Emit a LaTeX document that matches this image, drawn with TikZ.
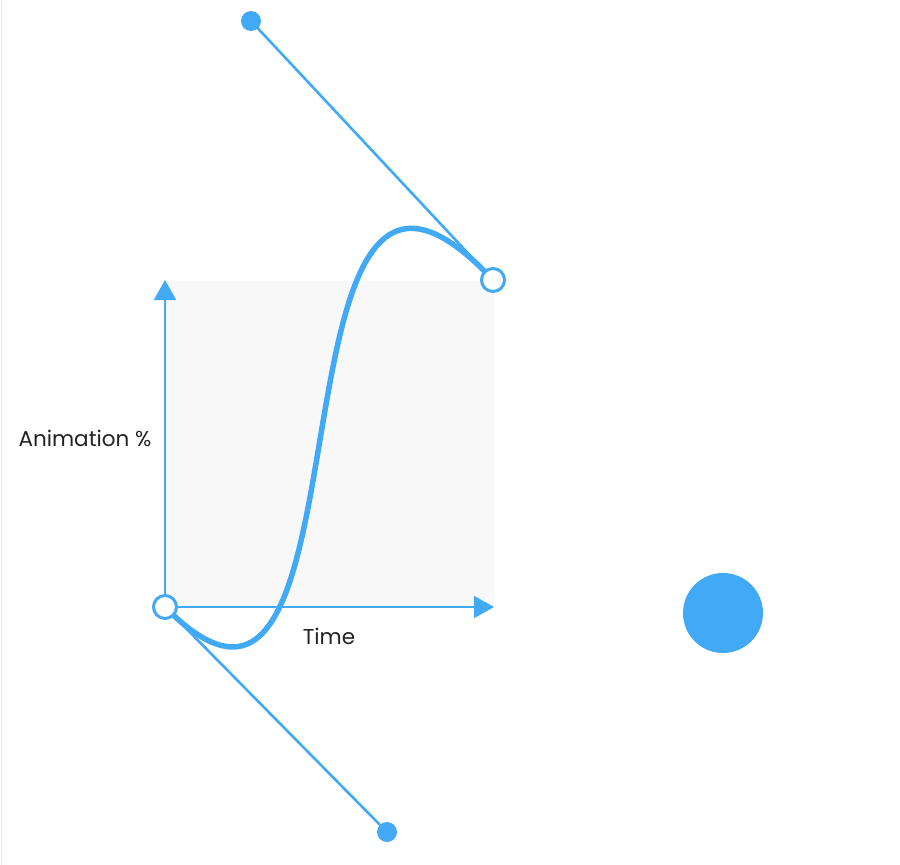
\documentclass[tikz,border=0pt]{standalone}
\usepackage{fontspec}
\setmainfont{Poppins}
\usetikzlibrary{arrows.meta}
\definecolor{easeblue}{HTML}{41A9F5}
\definecolor{panelgray}{HTML}{F8F8F8}
\definecolor{edgegray}{HTML}{E4E4E4}
\definecolor{labelink}{HTML}{232323}
\tikzset{
  axis/.style={draw=easeblue, line width=2pt, -{Triangle[length=20pt,width=22pt]}},
  handle/.style={draw=easeblue, line width=2.6pt},
  easecurve/.style={draw=easeblue, line width=5.5pt},
  anchorpt/.style={circle, draw=easeblue, fill=white, line width=3pt, minimum size=23pt, inner sep=0pt},
  handlept/.style={circle, fill=easeblue, minimum size=20pt, inner sep=0pt},
  ball/.style={circle, fill=easeblue, minimum size=80pt, inner sep=0pt},
  axislabel/.style={text=labelink, font=\fontsize{21.5}{24}\selectfont, inner sep=0pt}
}
\begin{document}
\begin{tikzpicture}[x=1pt, y=-1pt]
  \useasboundingbox (0,0) rectangle (900,865);
  % thin frame edge on the left
  \draw[edgegray, line width=1pt] (1,0) -- (1,865);
  % plot area
  \fill[panelgray] (166,281) rectangle (494,607);

  % curve points
  \coordinate (o) at (165,607);
  \coordinate (e) at (493,280);
  \coordinate (h1) at (251,21);
  \coordinate (h2) at (387,832);
  \coordinate (ytip) at (165,280);
  \coordinate (xtip) at (494,607);

  % axes
  \draw[axis] (o) -- (ytip);
  \draw[axis] (o) -- (xtip);

  % control handles
  \draw[handle] (h1) -- (e);
  \draw[handle] (o) -- (h2);

  % easing curve
  \draw[easecurve] (o) .. controls (h2) and (h1) .. (e);

  % points
  \node[handlept] (h1dot) at (h1) {};
  \node[handlept] (h2dot) at (h2) {};
  \node[anchorpt] (start) at (o) {};
  \node[anchorpt] (end) at (e) {};

  % animated ball
  \node[ball] (ballnode) at (723,613) {};

  % labels
  \node[axislabel] (ylab) at (85,438) {Animation \%};
  \node[axislabel] (xlab) at (329,636) {Time};
\end{tikzpicture}
\end{document}
